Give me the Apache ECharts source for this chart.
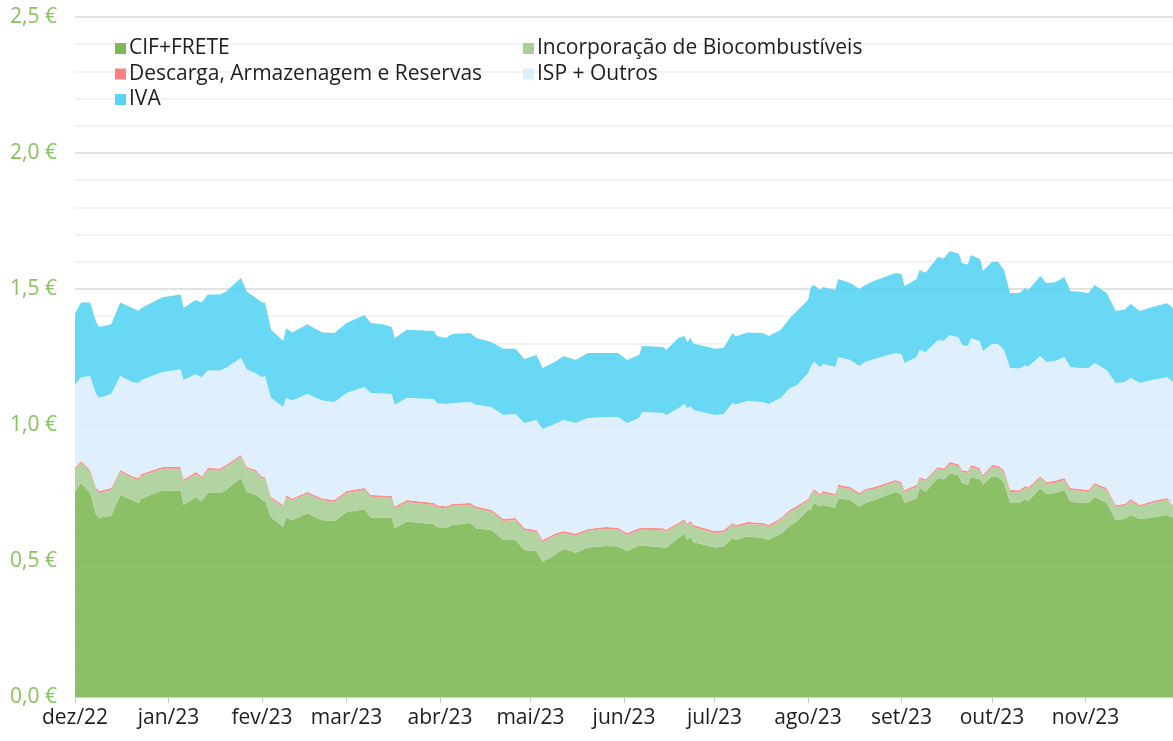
<!DOCTYPE html>
<html>
<head>
<meta charset="utf-8">
<title>Estrutura do preço</title>
<script src="https://cdn.jsdelivr.net/npm/echarts@6/dist/echarts.min.js"></script>
<style>
  html, body { margin: 0; padding: 0; background: #ffffff; }
  #chart { width: 1173px; height: 741px; }
</style>
</head>
<body>
<div id="chart"></div>
<script>
// datas
const dates = [
  '2022-12-01', '2022-12-03', '2022-12-06', '2022-12-08', '2022-12-09', '2022-12-13', '2022-12-16', '2022-12-20', '2022-12-22', '2022-12-23',
  '2022-12-30', '2023-01-05', '2023-01-06', '2023-01-10', '2023-01-12', '2023-01-14', '2023-01-18', '2023-01-20', '2023-01-25', '2023-01-27',
  '2023-01-30', '2023-02-01', '2023-02-02', '2023-02-04', '2023-02-08', '2023-02-09', '2023-02-11', '2023-02-16', '2023-02-21', '2023-02-25',
  '2023-03-01', '2023-03-07', '2023-03-09', '2023-03-13', '2023-03-16', '2023-03-17', '2023-03-21', '2023-03-30', '2023-03-31', '2023-04-03',
  '2023-04-05', '2023-04-11', '2023-04-13', '2023-04-18', '2023-04-22', '2023-04-26', '2023-04-29', '2023-05-03', '2023-05-05', '2023-05-09',
  '2023-05-12', '2023-05-16', '2023-05-20', '2023-05-26', '2023-05-30', '2023-06-02', '2023-06-06', '2023-06-07', '2023-06-14', '2023-06-15',
  '2023-06-19', '2023-06-21', '2023-06-22', '2023-06-23', '2023-06-24', '2023-07-01', '2023-07-04', '2023-07-07', '2023-07-08', '2023-07-12',
  '2023-07-17', '2023-07-19', '2023-07-23', '2023-07-26', '2023-07-28', '2023-08-01', '2023-08-02', '2023-08-03', '2023-08-05', '2023-08-06',
  '2023-08-10', '2023-08-11', '2023-08-15', '2023-08-18', '2023-08-20', '2023-08-23', '2023-08-30', '2023-09-01', '2023-09-02', '2023-09-06',
  '2023-09-07', '2023-09-09', '2023-09-13', '2023-09-15', '2023-09-17', '2023-09-20', '2023-09-21', '2023-09-23', '2023-09-24', '2023-09-27',
  '2023-09-28', '2023-10-01', '2023-10-03', '2023-10-05', '2023-10-07', '2023-10-10', '2023-10-12', '2023-10-13', '2023-10-17', '2023-10-19',
  '2023-10-22', '2023-10-25', '2023-10-27', '2023-10-30', '2023-11-02', '2023-11-04', '2023-11-08', '2023-11-11', '2023-11-14', '2023-11-16',
  '2023-11-19', '2023-11-23', '2023-11-28', '2023-11-30'
]

const cifFrete = [
  0.754, 0.787, 0.75, 0.67, 0.66, 0.665, 0.743, 0.724, 0.713, 0.73,
  0.76, 0.757, 0.706, 0.735, 0.72, 0.75, 0.75, 0.76, 0.805, 0.754,
  0.743, 0.724, 0.72, 0.66, 0.625, 0.66, 0.65, 0.676, 0.65, 0.647,
  0.68, 0.69, 0.66, 0.66, 0.658, 0.62, 0.645, 0.635, 0.625, 0.62,
  0.632, 0.64, 0.62, 0.614, 0.577, 0.577, 0.54, 0.537, 0.496, 0.522,
  0.544, 0.53, 0.55, 0.555, 0.553, 0.537, 0.557, 0.557, 0.55, 0.548,
  0.585, 0.60, 0.577, 0.59, 0.57, 0.55, 0.553, 0.585, 0.578, 0.59,
  0.585, 0.577, 0.60, 0.63, 0.643, 0.687, 0.69, 0.713, 0.70, 0.706,
  0.695, 0.73, 0.724, 0.70, 0.713, 0.724, 0.754, 0.745, 0.713, 0.73,
  0.768, 0.755, 0.805, 0.80, 0.823, 0.815, 0.787, 0.78, 0.809, 0.80,
  0.78, 0.812, 0.81, 0.787, 0.713, 0.713, 0.728, 0.72, 0.768, 0.746,
  0.75, 0.761, 0.717, 0.715, 0.713, 0.735, 0.713, 0.65, 0.655, 0.669,
  0.654, 0.66, 0.669, 0.66
]

const biocombustiveis = [
  0.081, 0.074, 0.078, 0.091, 0.09, 0.096, 0.085, 0.081, 0.085, 0.083,
  0.079, 0.082, 0.087, 0.085, 0.085, 0.085, 0.083, 0.086, 0.078, 0.085,
  0.085, 0.079, 0.083, 0.068, 0.074, 0.076, 0.073, 0.071, 0.073, 0.07,
  0.07, 0.071, 0.076, 0.074, 0.074, 0.073, 0.072, 0.071, 0.073, 0.073,
  0.071, 0.066, 0.073, 0.067, 0.07, 0.074, 0.073, 0.07, 0.074, 0.071,
  0.059, 0.063, 0.061, 0.063, 0.062, 0.059, 0.056, 0.058, 0.063, 0.06,
  0.048, 0.047, 0.053, 0.051, 0.055, 0.053, 0.053, 0.048, 0.047, 0.046,
  0.048, 0.048, 0.051, 0.051, 0.05, 0.034, 0.053, 0.045, 0.039, 0.044,
  0.044, 0.043, 0.041, 0.043, 0.045, 0.041, 0.037, 0.038, 0.041, 0.043,
  0.034, 0.038, 0.034, 0.033, 0.034, 0.034, 0.041, 0.043, 0.037, 0.035,
  0.029, 0.034, 0.033, 0.041, 0.041, 0.04, 0.041, 0.043, 0.037, 0.037,
  0.038, 0.037, 0.044, 0.043, 0.041, 0.045, 0.048, 0.049, 0.048, 0.052,
  0.045, 0.053, 0.056, 0.046
]

const descarga = [
  0.007, 0.007, 0.007, 0.007, 0.007, 0.007, 0.007, 0.007, 0.007, 0.007,
  0.007, 0.007, 0.007, 0.007, 0.007, 0.007, 0.007, 0.007, 0.007, 0.007,
  0.007, 0.007, 0.007, 0.007, 0.007, 0.007, 0.007, 0.007, 0.007, 0.007,
  0.007, 0.007, 0.007, 0.007, 0.007, 0.007, 0.007, 0.007, 0.007, 0.007,
  0.007, 0.007, 0.007, 0.007, 0.007, 0.007, 0.007, 0.007, 0.007, 0.007,
  0.007, 0.007, 0.007, 0.007, 0.007, 0.007, 0.007, 0.007, 0.007, 0.007,
  0.007, 0.007, 0.007, 0.007, 0.007, 0.007, 0.007, 0.007, 0.007, 0.007,
  0.007, 0.007, 0.007, 0.007, 0.007, 0.007, 0.007, 0.007, 0.007, 0.007,
  0.007, 0.007, 0.007, 0.007, 0.007, 0.007, 0.007, 0.007, 0.007, 0.007,
  0.007, 0.007, 0.007, 0.007, 0.007, 0.007, 0.007, 0.007, 0.007, 0.007,
  0.007, 0.007, 0.007, 0.007, 0.007, 0.007, 0.007, 0.007, 0.007, 0.007,
  0.007, 0.007, 0.007, 0.007, 0.007, 0.007, 0.007, 0.007, 0.007, 0.007,
  0.007, 0.007, 0.007, 0.007
]

const ispOutros = [
  0.305, 0.308, 0.345, 0.346, 0.343, 0.346, 0.345, 0.346, 0.349, 0.345,
  0.349, 0.359, 0.365, 0.36, 0.364, 0.358, 0.36, 0.357, 0.356, 0.359,
  0.355, 0.366, 0.37, 0.365, 0.36, 0.357, 0.36, 0.36, 0.36, 0.361,
  0.361, 0.372, 0.375, 0.375, 0.375, 0.374, 0.376, 0.383, 0.375, 0.377,
  0.37, 0.372, 0.374, 0.378, 0.383, 0.382, 0.387, 0.404, 0.408, 0.404,
  0.408, 0.407, 0.408, 0.404, 0.407, 0.404, 0.406, 0.426, 0.424, 0.422,
  0.422, 0.423, 0.425, 0.422, 0.423, 0.427, 0.427, 0.441, 0.443, 0.445,
  0.445, 0.445, 0.442, 0.448, 0.443, 0.462, 0.467, 0.467, 0.467, 0.467,
  0.467, 0.47, 0.467, 0.467, 0.467, 0.471, 0.467, 0.47, 0.467, 0.47,
  0.467, 0.468, 0.466, 0.47, 0.467, 0.466, 0.459, 0.46, 0.467, 0.466,
  0.456, 0.445, 0.448, 0.441, 0.449, 0.448, 0.444, 0.445, 0.442, 0.442,
  0.441, 0.445, 0.445, 0.445, 0.449, 0.441, 0.434, 0.448, 0.448, 0.445,
  0.448, 0.445, 0.444, 0.445
]

const iva = [
  0.263, 0.274, 0.27, 0.266, 0.26, 0.256, 0.27, 0.272, 0.266, 0.265,
  0.275, 0.275, 0.265, 0.273, 0.274, 0.28, 0.28, 0.28, 0.294, 0.285,
  0.277, 0.274, 0.27, 0.25, 0.244, 0.256, 0.25, 0.256, 0.25, 0.253,
  0.257, 0.264, 0.257, 0.254, 0.246, 0.246, 0.25, 0.25, 0.247, 0.243,
  0.255, 0.253, 0.246, 0.239, 0.243, 0.24, 0.236, 0.239, 0.225, 0.228,
  0.236, 0.232, 0.239, 0.236, 0.236, 0.232, 0.231, 0.242, 0.243, 0.239,
  0.258, 0.25, 0.243, 0.25, 0.245, 0.243, 0.243, 0.257, 0.25, 0.252,
  0.253, 0.25, 0.25, 0.257, 0.272, 0.27, 0.29, 0.283, 0.283, 0.283,
  0.283, 0.287, 0.283, 0.283, 0.283, 0.287, 0.294, 0.295, 0.283, 0.287,
  0.294, 0.292, 0.306, 0.302, 0.309, 0.308, 0.302, 0.30, 0.305, 0.302,
  0.294, 0.302, 0.302, 0.294, 0.275, 0.277, 0.284, 0.28, 0.294, 0.29,
  0.289, 0.294, 0.28, 0.28, 0.275, 0.287, 0.283, 0.265, 0.267, 0.272,
  0.265, 0.269, 0.272, 0.272
]

// rótulos dos meses no eixo x
const monthStarts = ['2022-12-01', '2023-01-01', '2023-02-01', '2023-03-01', '2023-04-01', '2023-05-01',
  '2023-06-01', '2023-07-01', '2023-08-01', '2023-09-01', '2023-10-01', '2023-11-01']
const monthLabels = ['dez/22', 'jan/23', 'fev/23', 'mar/23', 'abr/23', 'mai/23',
  'jun/23', 'jul/23', 'ago/23', 'set/23', 'out/23', 'nov/23']

const seriesNames = ['CIF+FRETE', 'Incorporação de Biocombustíveis', 'Descarga, Armazenagem e Reservas', 'ISP + Outros', 'IVA']
const seriesColors = ['#7fb955', '#a9cf98', '#ff7f7f', '#dbeefc', '#59d4f4']

const FONT = '"Open Sans", "Noto Sans", sans-serif'
const FONT_SIZE = 21
const toTime = d => echarts.number.parseDate(d).getTime()
const monthTimes = monthStarts.map(toTime)
const DAY = 24 * 3600 * 1000

const legendBase = {
  orient: 'vertical',
  top: 33,
  icon: 'rect',
  itemWidth: 11,
  itemHeight: 11,
  itemGap: 4.5,
  textStyle: { fontSize: FONT_SIZE, color: '#1e1e1e', fontFamily: FONT, padding: [0, 0, 0, -2] }
}

const chart = echarts.init(document.getElementById('chart'))
chart.setOption({
  animation: false,
  textStyle: { fontFamily: FONT },
  grid: { left: 75, right: 0, top: 17, bottom: 44 },
  legend: [
    Object.assign({ data: [seriesNames[0], seriesNames[2], seriesNames[4]], left: 110 }, legendBase),
    Object.assign({ data: [seriesNames[1], seriesNames[3]], left: 518 }, legendBase)
  ],
  xAxis: {
    type: 'time',
    min: monthStarts[0],
    max: dates[dates.length - 1],
    splitNumber: 12,
    minInterval: 28 * DAY,
    maxInterval: 31 * DAY,
    axisLine: { lineStyle: { color: '#d4d4d4' } },
    axisTick: { show: true, length: 6, lineStyle: { color: '#cccccc' } },
    splitLine: { show: false },
    axisLabel: {
      margin: 11,
      showMaxLabel: false,
      formatter: v => {
        const idx = monthTimes.indexOf(v)
        return idx < 0 ? '' : '{m|' + monthLabels[idx] + '}'
      },
      rich: { m: { fontSize: FONT_SIZE, color: '#1e1e1e', fontFamily: FONT, fontWeight: 'normal' } }
    }
  },
  yAxis: {
    type: 'value',
    min: 0,
    max: 2.5,
    interval: 0.5,
    axisLine: { show: false },
    axisTick: { show: false },
    axisLabel: {
      margin: 18,
      fontSize: FONT_SIZE,
      color: '#86c25e',
      formatter: v => v.toFixed(1).replace('.', ',') + ' €'
    },
    splitLine: { lineStyle: { color: '#d8d8d8', width: 1.5 } },
    minorTick: { show: false, splitNumber: 5 },
    minorSplitLine: { show: true, lineStyle: { color: '#efefef', width: 1.5 } }
  },
  series: [cifFrete, biocombustiveis, descarga, ispOutros, iva].map((arr, i) => ({
    name: seriesNames[i],
    type: 'line',
    stack: 'preco',
    data: dates.map((d, k) => [d, arr[k]]),
    showSymbol: false,
    symbol: 'none',
    lineStyle: { width: 0 },
    itemStyle: { color: seriesColors[i] },
    areaStyle: { color: seriesColors[i], opacity: 0.9 }
  }))
})
</script>
</body>
</html>
